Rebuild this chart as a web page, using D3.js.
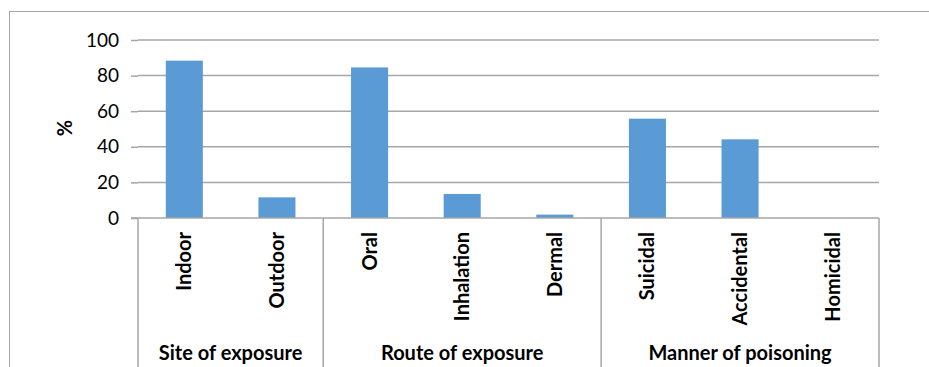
<!DOCTYPE html>
<html>
<head>
<meta charset="utf-8">
<script src="https://cdn.jsdelivr.net/npm/d3@7"></script>
<style>
  html, body { margin: 0; padding: 0; background: #fff; }
  svg { display: block; font-family: Lato, "Liberation Sans", sans-serif; }
</style>
</head>
<body>
<svg id="chart" width="929" height="367"></svg>
<script>
// Poisoning cases: share (%) by category within each grouping
const categories = ["Indoor", "Outdoor", "Oral", "Inhalation", "Dermal", "Suicidal", "Accidental", "Homicidal"];
const values = [88.4, 11.6, 84.6, 13.5, 1.9, 55.8, 44.2, 0];
const groups = ["Site of exposure", "Route of exposure", "Manner of poisoning"];
const groupSizes = [2, 3, 3];
const yTicks = [0, 20, 40, 60, 80, 100];
const yLabel = "%";

const svg = d3.select("#chart");
const plot = { left: 138, right: 879, top: 40, bottom: 218 };
const gridColor = "#a6a6a6";
const tickFont = "19px";
const labelFont = "20px";

// chart frame
svg.append("rect")
  .attr("x", 9.5).attr("y", 11.5)
  .attr("width", 1000).attr("height", 500)
  .attr("fill", "none").attr("stroke", gridColor).attr("stroke-width", 1);

const x = d3.scaleBand()
  .domain(categories)
  .range([plot.left, plot.right])
  .paddingInner(0.6)
  .paddingOuter(0.3);

const y = d3.scaleLinear().domain([0, 100]).range([plot.bottom, plot.top]);

// y axis with gridlines
const yAxis = d3.axisLeft(y).tickValues(yTicks).tickSize(7).tickPadding(12);
const gy = svg.append("g").attr("transform", `translate(${plot.left},0)`).call(yAxis);
gy.select(".domain").remove();
gy.selectAll(".tick line").attr("stroke", gridColor).attr("stroke-width", 1.5);
gy.selectAll(".tick text")
  .attr("fill", "#000").style("font-size", tickFont)
  .style("font-family", "Lato, 'Liberation Sans', sans-serif");

svg.append("g")
  .selectAll("line")
  .data(yTicks.filter(t => t !== 0))
  .join("line")
  .attr("x1", plot.left).attr("x2", plot.right)
  .attr("y1", d => y(d)).attr("y2", d => y(d))
  .attr("stroke", gridColor).attr("stroke-width", 1.5);

// bars
svg.append("g")
  .selectAll("rect")
  .data(categories)
  .join("rect")
  .attr("x", d => x(d))
  .attr("width", x.bandwidth())
  .attr("y", (d, i) => y(values[i]))
  .attr("height", (d, i) => y(0) - y(values[i]))
  .attr("fill", "#5b9bd5");

// category axis line
svg.append("line")
  .attr("x1", plot.left - 7).attr("x2", plot.right)
  .attr("y1", y(0)).attr("y2", y(0))
  .attr("stroke", gridColor).attr("stroke-width", 1.5);

// group separators
const step = x.step();
let acc = 0;
const bounds = [0];
groupSizes.forEach(n => { acc += n; bounds.push(acc); });
svg.append("g")
  .selectAll("line")
  .data(bounds)
  .join("line")
  .attr("x1", b => plot.left + b * step)
  .attr("x2", b => plot.left + b * step)
  .attr("y1", y(0)).attr("y2", 380)
  .attr("stroke", gridColor).attr("stroke-width", 1.5);

// category labels (rotated)
svg.append("g")
  .selectAll("text")
  .data(categories)
  .join("text")
  .attr("transform", d => `translate(${x(d) + x.bandwidth() / 2 + 7},232) rotate(-90)`)
  .attr("text-anchor", "end")
  .style("font-size", labelFont)
  .style("font-weight", "bold")
  .text(d => d);

// group labels
svg.append("g")
  .selectAll("text")
  .data(groups)
  .join("text")
  .attr("x", (g, i) => plot.left + (bounds[i] + bounds[i + 1]) / 2 * step)
  .attr("y", 360)
  .attr("text-anchor", "middle")
  .style("font-size", labelFont)
  .style("font-weight", "bold")
  .text(g => g);

// y axis title
svg.append("text")
  .attr("transform", "translate(72,128) rotate(-90)")
  .attr("text-anchor", "middle")
  .style("font-size", labelFont)
  .style("font-weight", "bold")
  .text(yLabel);
</script>
</body>
</html>
